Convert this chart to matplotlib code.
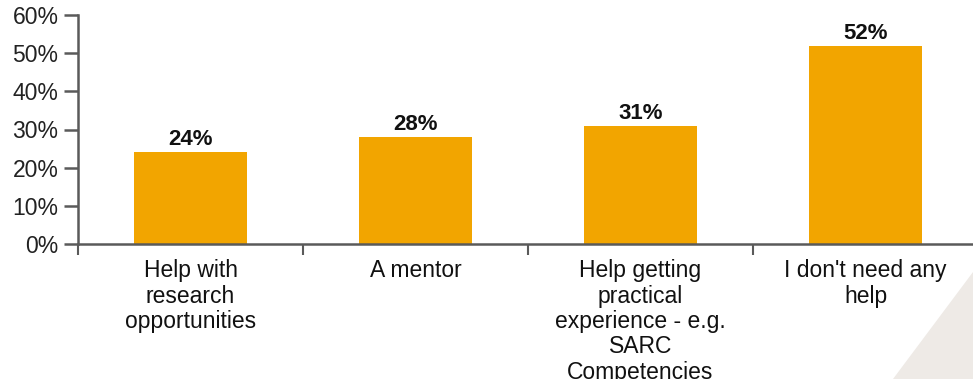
import matplotlib.pyplot as plt
from matplotlib.patches import Polygon
from matplotlib.ticker import FixedLocator, PercentFormatter

categories = ["Help with\nresearch\nopportunities", "A mentor",
              "Help getting\npractical\nexperience - e.g.\nSARC\nCompetencies",
              "I don't need any\nhelp"]
values = [24, 28, 31, 52]
yticks = [0, 10, 20, 30, 40, 50, 60]

plt.rcParams['font.family'] = ['Liberation Sans', 'DejaVu Sans']

W, H = 973, 379
fig = plt.figure(figsize=(W / 100, H / 100), dpi=100)

# pale corner shape in the background
fig.patches.append(Polygon([(973 / W, 1 - 272 / H), (973 / W, 0), (893 / W, 0)],
                           closed=True, transform=fig.transFigure,
                           facecolor='#EEEAE6', edgecolor='none', zorder=0))

ax = fig.add_axes([78 / W, 135 / H, 900 / W, 229 / H])
ax.patch.set_alpha(0)

x = range(len(values))
ax.bar(x, values, width=0.5, color='#F2A500', zorder=2)
for xi, v in zip(x, values):
    ax.text(xi, v + 0.5, f"{v}%", ha='center', va='bottom',
            fontsize=16, fontweight='bold', color='#111111')

ax.set_xlim(-0.5, 3.5)
ax.set_ylim(0, 60)
ax.set_yticks(yticks)
ax.yaxis.set_major_formatter(PercentFormatter(decimals=0))
ax.set_xticks(list(x))
ax.set_xticklabels(categories, fontsize=16.5, color='#111111', linespacing=1.13)
ax.xaxis.set_minor_locator(FixedLocator([-0.5, 0.5, 1.5, 2.5]))

for side in ('top', 'right'):
    ax.spines[side].set_visible(False)
for side in ('left', 'bottom'):
    ax.spines[side].set_color('#5a5a5a')
    ax.spines[side].set_linewidth(1.8)

ax.tick_params(axis='y', length=10, width=1.8, color='#5a5a5a',
               labelsize=16.5, labelcolor='#222222', pad=4)
ax.tick_params(axis='x', which='major', length=0, pad=11)
ax.tick_params(axis='x', which='minor', length=8, width=1.5, color='#5a5a5a')

fig.savefig('out.png', dpi=100)
